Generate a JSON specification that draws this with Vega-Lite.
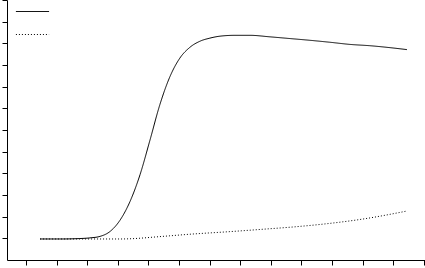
{
  "$schema": "https://vega.github.io/schema/vega-lite/v6.json",
  "width": 418,
  "height": 260,
  "autosize": {"type": "none"},
  "padding": {"left": 7, "top": 0, "right": 0, "bottom": 8},
  "background": "white",
  "config": {"view": {"stroke": null}},
  "data": {
    "values": [
      {"x": 1.46, "y": 0.97, "s": "A"},
      {"x": 2.11, "y": 0.97, "s": "A"},
      {"x": 2.76, "y": 0.99, "s": "A"},
      {"x": 3.09, "y": 1.02, "s": "A"},
      {"x": 3.42, "y": 1.09, "s": "A"},
      {"x": 3.75, "y": 1.32, "s": "A"},
      {"x": 4.07, "y": 1.83, "s": "A"},
      {"x": 4.4, "y": 2.7, "s": "A"},
      {"x": 4.73, "y": 3.95, "s": "A"},
      {"x": 5.05, "y": 5.52, "s": "A"},
      {"x": 5.38, "y": 7.19, "s": "A"},
      {"x": 5.71, "y": 8.48, "s": "A"},
      {"x": 6.03, "y": 9.32, "s": "A"},
      {"x": 6.36, "y": 9.82, "s": "A"},
      {"x": 6.69, "y": 10.1, "s": "A"},
      {"x": 7.01, "y": 10.24, "s": "A"},
      {"x": 7.34, "y": 10.33, "s": "A"},
      {"x": 7.83, "y": 10.37, "s": "A"},
      {"x": 8.32, "y": 10.37, "s": "A"},
      {"x": 8.97, "y": 10.3, "s": "A"},
      {"x": 9.63, "y": 10.22, "s": "A"},
      {"x": 10.28, "y": 10.14, "s": "A"},
      {"x": 10.93, "y": 10.05, "s": "A"},
      {"x": 11.59, "y": 9.95, "s": "A"},
      {"x": 12.24, "y": 9.89, "s": "A"},
      {"x": 12.9, "y": 9.8, "s": "A"},
      {"x": 13.45, "y": 9.71, "s": "A"},
      {"x": 1.46, "y": 0.97, "s": "B"},
      {"x": 4.07, "y": 0.97, "s": "B"},
      {"x": 4.4, "y": 0.98, "s": "B"},
      {"x": 5.38, "y": 1.08, "s": "B"},
      {"x": 6.36, "y": 1.19, "s": "B"},
      {"x": 7.67, "y": 1.31, "s": "B"},
      {"x": 8.75, "y": 1.42, "s": "B"},
      {"x": 9.86, "y": 1.54, "s": "B"},
      {"x": 10.93, "y": 1.69, "s": "B"},
      {"x": 12.01, "y": 1.89, "s": "B"},
      {"x": 13.45, "y": 2.26, "s": "B"}
    ]
  },
  "mark": {"type": "line", "interpolate": "monotone", "strokeWidth": 1, "color": "#000000"},
  "encoding": {
    "x": {
      "field": "x", "type": "quantitative",
      "scale": {"domain": [0.38, 14.04], "nice": false, "zero": false},
      "axis": {"title": null, "labels": false, "grid": false, "values": [1,2,3,4,5,6,7,8,9,10,11,12,13,14], "tickSize": 5, "tickColor": "#000", "domainColor": "#000"}
    },
    "y": {
      "field": "y", "type": "quantitative",
      "scale": {"domain": [0, 12], "nice": false},
      "axis": {"title": null, "labels": false, "grid": false, "values": [1,2,3,4,5,6,7,8,9,10,11,12], "tickSize": 5, "tickColor": "#000", "domainColor": "#000"}
    },
    "strokeDash": {
      "field": "s", "type": "nominal",
      "scale": {"domain": ["A", "B"], "range": [[1, 0], [1, 2]]},
      "legend": {"title": null, "orient": "none", "legendX": 8, "legendY": -6, "symbolType": "stroke", "symbolSize": 1100, "symbolStrokeColor": "#000", "symbolStrokeWidth": 1, "labelExpr": "''", "rowPadding": -11}
    }
  }
}
